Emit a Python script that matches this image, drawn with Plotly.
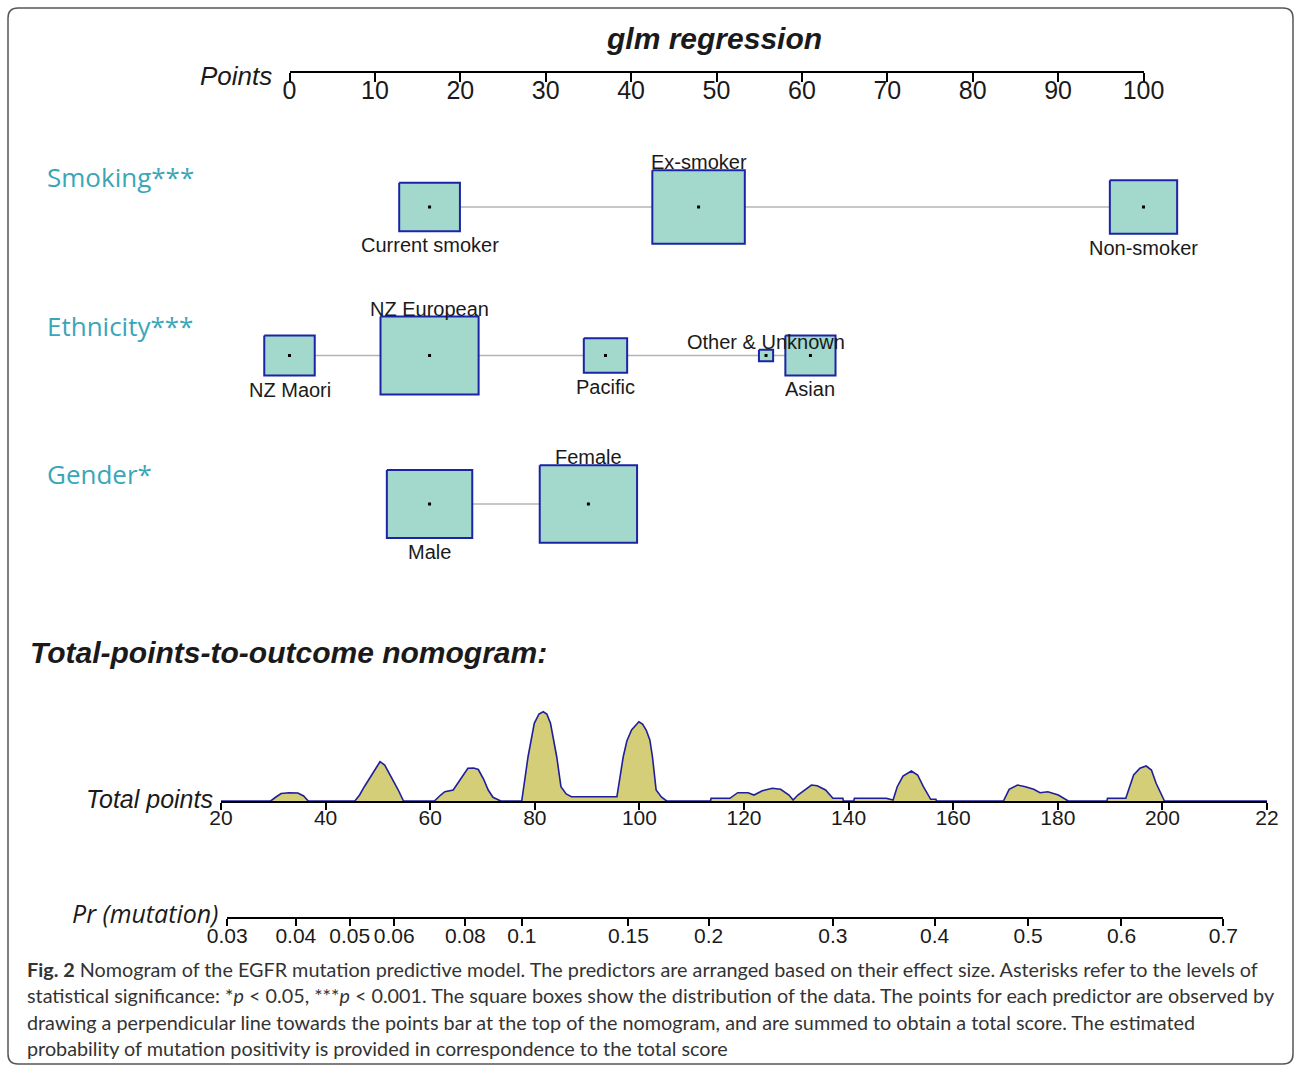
import numpy as np
import plotly.graph_objects as go

W, H = 1295, 1067

# ---------------------------------------------------------------- data
ROW_NAMES = ["Smoking***", "Ethnicity***", "Gender*"]

SMOKING_LEVELS = ["Current smoker", "Ex-smoker", "Non-smoker"]
SMOKING_POINTS = [16.4, 47.9, 100.0]
SMOKING_FREQ = [0.22, 0.51, 0.27]

ETHNICITY_LEVELS = ["NZ Maori", "NZ European", "Pacific", "Other & Unknown", "Asian"]
ETHNICITY_POINTS = [0.0, 16.4, 37.0, 55.8, 61.0]
ETHNICITY_FREQ = [0.152, 0.574, 0.112, 0.012, 0.150]

GENDER_LEVELS = ["Male", "Female"]
GENDER_POINTS = [16.4, 35.0]
GENDER_FREQ = [0.435, 0.565]

POINTS_TICKS = list(range(0, 101, 10))
TOTAL_TICKS = list(range(20, 221, 20))
TOTAL_TICK_TEXT = ["20", "40", "60", "80", "100", "120", "140", "160", "180", "200", "22"]
PR_TICKS = [0.03, 0.04, 0.05, 0.06, 0.08, 0.1, 0.15, 0.2, 0.3, 0.4, 0.5, 0.6, 0.7]
PR_TICK_TEXT = ["0.03", "0.04", "0.05", "0.06", "0.08", "0.1", "0.15",
                "0.2", "0.3", "0.4", "0.5", "0.6", "0.7"]

# logistic link between total points and Pr(mutation)
LOGIT_INTERCEPT = -3.957
LOGIT_SLOPE = 0.0227

# distribution of total points in the sample
TOTAL_GRID = [20, 29.5, 30.5, 31.5, 33, 34.7, 35.8, 36.7,
              45.6, 46.5, 47.4, 48.8, 50.4, 51.3, 52.5, 53.8, 54.9,
              60.8, 62.0, 62.8, 64.4, 65.5, 67.2, 68.3, 69.2, 70.2, 71.1, 72, 73.5,
              77.5, 78.7, 79.9, 80.8, 81.6, 82.3, 83.0, 84.2, 85.0, 86, 87,
              95.7, 96.9, 97.6, 98.5, 99.9, 100.6, 101.3, 102.0, 102.5, 103.2, 104.2, 105.2,
              113.6, 113.7, 117.3, 118.8, 120.8, 121.9, 123.5, 125.4, 127, 128.6, 129.4,
              130.3, 131.7, 132.9, 134.0, 135.6, 137, 138.9, 139,
              141, 141.1, 147.2, 148.5, 149.3, 150.4, 152, 153.2, 154.3, 155.7, 156.7, 156.8,
              169.6, 170.7, 172.3, 173.8, 175.4, 176.6, 178.1, 180.1, 181.6, 182,
              189.4, 189.5, 193, 194.5, 195.7, 196.9, 197.9, 198.8, 200.4, 220]
TOTAL_DENSITY = [0, 0, 4, 7.5, 8.3, 8, 5, 0,
                 0, 6, 14.3, 26, 39.3, 36, 25, 12, 0,
                 0, 6, 9.3, 11, 20, 32.7, 33, 31.5, 22, 11, 3.7, 0,
                 0, 44, 77.7, 87, 89.3, 87, 77.7, 44, 14.3, 7, 4.3,
                 4.3, 44, 60, 71, 79.3, 77, 71, 61, 44, 11, 4, 0,
                 0, 2.7, 2.7, 8.3, 8.3, 6, 10.3, 12.7, 11.7, 6, 1,
                 6, 11.7, 16, 15.3, 11, 2.7, 2.7, 0,
                 0, 2.7, 2.7, 1, 14.3, 25, 30, 26, 14.3, 1.7, 1.7, 0,
                 0, 11.7, 16, 14.3, 11.7, 8.3, 9.3, 6, 1.7, 0,
                 0, 2.7, 2.7, 26, 32.7, 35, 31, 17.7, 0, 0]

# ---------------------------------------------------------------- geometry
PTS_X0_PX, PX_PER_PT = 289.5, 8.54        # points scale
TOT_X0_PX, PX_PER_TOT = 221.0, 5.23       # total-points scale (value 20 at TOT_X0_PX)
ROW1_PX, ROW_PX = 207.0, 148.5            # predictor rows
BOX_SIDE_PX = 129.5                        # side of a box holding the whole sample
BOX_ASPECT = 0.795

x_range = [-PTS_X0_PX / PX_PER_PT, (W - PTS_X0_PX) / PX_PER_PT]
y_range = [1 + (H - ROW1_PX) / ROW_PX, 1 - ROW1_PX / ROW_PX]


def tot_px(t):
    return TOT_X0_PX + (t - 20) * PX_PER_TOT


def pr_to_total(p):
    p = np.asarray(p, dtype=float)
    return (np.log(p / (1 - p)) - LOGIT_INTERCEPT) / LOGIT_SLOPE


TEAL = "#3aa6b8"
BOX_FILL = "#a2d9cc"
BOX_LINE = "#1c24a6"
TXT = "#1a1a1a"
SANS = "Liberation Sans"

fig = go.Figure()
annotations = []

rows = [
    (SMOKING_LEVELS, SMOKING_POINTS, SMOKING_FREQ),
    (ETHNICITY_LEVELS, ETHNICITY_POINTS, ETHNICITY_FREQ),
    (GENDER_LEVELS, GENDER_POINTS, GENDER_FREQ),
]

# connecting lines
for r, (levels, pts, freq) in enumerate(rows, start=1):
    fig.add_trace(go.Scatter(x=[min(pts), max(pts)], y=[r, r], mode="lines",
                             line=dict(color="#b4b4b4", width=1.5),
                             hoverinfo="skip", showlegend=False))

# boxes, centre dots and level labels
for r, (levels, pts, freq) in enumerate(rows, start=1):
    order = np.argsort(pts)
    for k, i in enumerate(order):
        side = np.sqrt(freq[i]) * BOX_SIDE_PX
        hw = side / 2 / PX_PER_PT
        hh = side * BOX_ASPECT / 2 / ROW_PX
        x0, x1 = pts[i] - hw, pts[i] + hw
        y0, y1 = r - hh, r + hh
        fig.add_trace(go.Scatter(x=[x0, x1, x1, x0, x0], y=[y0, y0, y1, y1, y0],
                                 mode="lines", fill="toself", fillcolor=BOX_FILL,
                                 line=dict(color=BOX_LINE, width=2),
                                 hoverinfo="skip", showlegend=False))
        below = (k % 2 == 0)
        annotations.append(dict(
            x=pts[i], y=y1 if below else y0, xref="x", yref="y",
            text=levels[i].replace("&", "&amp;"), showarrow=False,
            xanchor="center", yanchor="top" if below else "bottom",
            yshift=-1 if below else -5,
            font=dict(family=SANS, size=20, color=TXT)))
    fig.add_trace(go.Scatter(x=pts, y=[r] * len(pts), mode="markers",
                             marker=dict(color="black", size=3, symbol="square"),
                             hoverinfo="skip", showlegend=False))
    annotations.append(dict(
        x=45 / W, y=r - 0.2, xref="paper", yref="y", text=ROW_NAMES[r - 1],
        showarrow=False, xanchor="left", yanchor="middle",
        font=dict(family="Open Sans", size=26, color=TEAL)))

# points axis holder
fig.add_trace(go.Scatter(x=[0, 100], y=[0, 0], xaxis="x2", yaxis="y", mode="markers",
                         marker=dict(opacity=0), hoverinfo="skip", showlegend=False))

# total-points distribution
fig.add_trace(go.Scatter(x=TOTAL_GRID, y=TOTAL_DENSITY, xaxis="x3", yaxis="y3",
                         mode="lines", fill="tozeroy", fillcolor="#d4ce78",
                         line=dict(color="#1f1f9c", width=1.6),
                         hoverinfo="skip", showlegend=False))

# probability axis holder
pr_lo, pr_hi = pr_to_total([PR_TICKS[0], PR_TICKS[-1]])
fig.add_trace(go.Scatter(x=[pr_lo, pr_hi], y=[0, 0], xaxis="x4", yaxis="y3", mode="markers",
                         marker=dict(opacity=0), hoverinfo="skip", showlegend=False))

# titles and axis names
annotations += [
    dict(x=713.5 / W, y=1 - 38 / H, xref="paper", yref="paper", text="glm regression",
         showarrow=False, xanchor="center", yanchor="middle",
         font=dict(family=SANS, size=30, color=TXT, weight="bold", style="italic")),
    dict(x=274 / W, y=1 - 76 / H, xref="paper", yref="paper", text="Points",
         showarrow=False, xanchor="right", yanchor="middle",
         font=dict(family=SANS, size=26, color=TXT, style="italic")),
    dict(x=28 / W, y=1 - 652 / H, xref="paper", yref="paper",
         text="Total-points-to-outcome nomogram:",
         showarrow=False, xanchor="left", yanchor="middle",
         font=dict(family=SANS, size=30, color=TXT, weight="bold", style="italic")),
    dict(x=215 / W, y=1 - 799 / H, xref="paper", yref="paper", text="Total points",
         showarrow=False, xanchor="right", yanchor="middle",
         font=dict(family=SANS, size=25, color=TXT, style="italic")),
    dict(x=220 / W, y=1 - 913 / H, xref="paper", yref="paper", text="Pr (mutation)",
         showarrow=False, xanchor="right", yanchor="middle",
         font=dict(family="Open Sans", size=25, color=TXT, style="italic")),
]

# caption
caption = [
    "<b>Fig. 2</b> Nomogram of the EGFR mutation predictive model. The predictors are arranged "
    "based on their effect size. Asterisks refer to the levels of",
    "statistical significance: *<i>p</i> &lt; 0.05, ***<i>p</i> &lt; 0.001. The square boxes show "
    "the distribution of the data. The points for each predictor are observed by",
    "drawing a perpendicular line towards the points bar at the top of the nomogram, and are "
    "summed to obtain a total score. The estimated",
    "probability of mutation positivity is provided in correspondence to the total score",
]
for j, line in enumerate(caption):
    annotations.append(dict(x=25 / W, y=1 - (969 + 26.3 * j) / H, xref="paper", yref="paper",
                            text=line, showarrow=False, xanchor="left", yanchor="middle",
                            font=dict(family="Lato", size=19.8, color="#333333")))

# rounded frame
fx0, fx1 = 8 / W, 1293 / W
fyt, fyb = 1 - 8 / H, 1 - 1064 / H
rx, ry = 10 / W, 10 / H
frame = (f"M {fx0 + rx},{fyt} L {fx1 - rx},{fyt} Q {fx1},{fyt} {fx1},{fyt - ry} "
         f"L {fx1},{fyb + ry} Q {fx1},{fyb} {fx1 - rx},{fyb} L {fx0 + rx},{fyb} "
         f"Q {fx0},{fyb} {fx0},{fyb + ry} L {fx0},{fyt - ry} Q {fx0},{fyt} {fx0 + rx},{fyt} Z")

axis_font = dict(family=SANS, color=TXT)
fig.update_layout(
    width=W, height=H, margin=dict(l=0, r=0, t=0, b=0, autoexpand=False),
    autosize=False,
    paper_bgcolor="white", plot_bgcolor="rgba(0,0,0,0)",
    showlegend=False,
    xaxis=dict(domain=[0, 1], range=x_range, visible=False, fixedrange=True, automargin=False),
    yaxis=dict(domain=[0, 1], range=y_range, visible=False, fixedrange=True, automargin=False),
    xaxis2=dict(domain=[PTS_X0_PX / W, (PTS_X0_PX + 100 * PX_PER_PT) / W], range=[0, 100],
                anchor="free", position=1 - 72 / H, side="bottom", automargin=False,
                showline=True, linecolor="black", linewidth=2, showgrid=False, zeroline=False,
                ticks="outside", ticklen=9, tickwidth=1.5, tickcolor="black",
                ticklabelstandoff=-13,
                tickvals=POINTS_TICKS, ticktext=[str(v) for v in POINTS_TICKS],
                tickfont=dict(size=25, **axis_font)),
    xaxis3=dict(domain=[tot_px(20) / W, tot_px(220) / W], range=[20, 220], anchor="y3",
                automargin=False,
                showline=True, linecolor="black", linewidth=2, showgrid=False, zeroline=False,
                ticks="outside", ticklen=7, tickwidth=1.5, tickcolor="black",
                ticklabelstandoff=-10,
                tickvals=TOTAL_TICKS, ticktext=TOTAL_TICK_TEXT,
                tickfont=dict(size=21, **axis_font)),
    yaxis3=dict(domain=[1 - 801 / H, 1 - 700 / H], range=[0, 101], visible=False,
                automargin=False),
    xaxis4=dict(domain=[tot_px(pr_lo) / W, tot_px(pr_hi) / W], range=[pr_lo, pr_hi],
                anchor="free", position=1 - 918.3 / H, side="bottom", automargin=False,
                showline=True, linecolor="black", linewidth=1.6, showgrid=False, zeroline=False,
                ticks="outside", ticklen=7, tickwidth=1.5, tickcolor="black",
                ticklabelstandoff=-8,
                tickvals=list(pr_to_total(PR_TICKS)), ticktext=PR_TICK_TEXT,
                tickfont=dict(size=21, **axis_font)),
    annotations=annotations,
    shapes=[dict(type="path", path=frame, xref="paper", yref="paper",
                 line=dict(color="#555555", width=1.5))],
)

fig.write_html("out.html")
